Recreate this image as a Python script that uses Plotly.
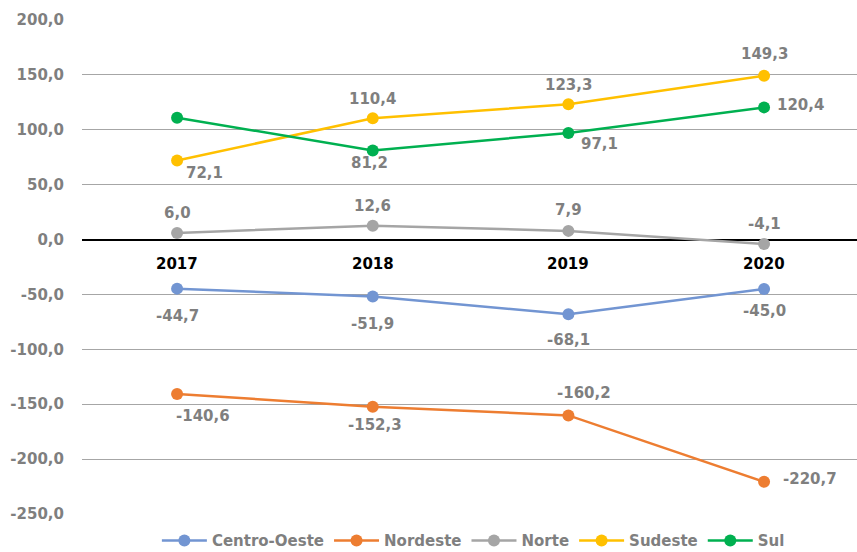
import plotly.graph_objects as go

years = ["2017", "2018", "2019", "2020"]
series_names = ["Centro-Oeste", "Nordeste", "Norte", "Sudeste", "Sul"]
centro_oeste = [-44.7, -51.9, -68.1, -45.0]
nordeste = [-140.6, -152.3, -160.2, -220.7]
norte = [6.0, 12.6, 7.9, -4.1]
sudeste = [72.1, 110.4, 123.3, 149.3]
sul = [111.0, 81.2, 97.1, 120.4]
sul_label_shown = [False, True, True, True]
y_ticks = [200, 150, 100, 50, 0, -50, -100, -150, -200, -250]

colors = ["#7295D2", "#ED7D31", "#A5A5A5", "#FFC000", "#00B050"]
# label offsets (xshift, yshift) in pixels per point
offsets = {
    "Centro-Oeste": [(0, -27), (0, -27), (0, -26), (0, -22)],
    "Nordeste": [(26, -22), (2, -18), (16, 22), (46, 3)],
    "Norte": [(0, 20), (0, 20), (0, 21), (0, 20)],
    "Sudeste": [(27, -13), (0, 19), (0, 19), (0, 22)],
    "Sul": [(0, 0), (-3, -13), (31, -11), (36, 2)],
}

FONT = "DejaVu Sans"
all_vals = [centro_oeste, nordeste, norte, sudeste, sul]
fig = go.Figure()
annotations = []
for name, vals, col in zip(series_names, all_vals, colors):
    fig.add_trace(go.Scatter(
        x=years, y=vals, name=f"<b>{name}</b>", mode="lines+markers",
        line=dict(color=col, width=2.5),
        marker=dict(color=col, size=12),
    ))
    for i, v in enumerate(vals):
        if name == "Sul" and not sul_label_shown[i]:
            continue
        dx, dy = offsets[name][i]
        annotations.append(dict(
            x=i, y=v, xref="x", yref="y",
            text="<b>" + f"{v:.1f}".replace(".", ",") + "</b>", showarrow=False,
            xshift=dx, yshift=dy,
            font=dict(family=FONT, size=15, color="#7F7F7F"),
        ))

for i, yr in enumerate(years):
    annotations.append(dict(
        x=i, y=0, xref="x", yref="y", text=f"<b>{yr}</b>", showarrow=False, yshift=-24,
        font=dict(family=FONT, size=15, color="#000000"),
    ))

fig.update_layout(
    width=857, height=552,
    margin=dict(l=82, r=0, t=20, b=38, autoexpand=False),
    plot_bgcolor="white", paper_bgcolor="white",
    showlegend=True,
    legend=dict(orientation="h", x=0.505, xanchor="center", y=-0.054, yanchor="middle",
                font=dict(family=FONT, size=15, color="#7F7F7F"), itemwidth=45),
    annotations=annotations,
    font=dict(family=FONT),
)
fig.update_xaxes(type="category", range=[-0.486, 3.475], showticklabels=False,
                 showgrid=False, zeroline=False, showline=False)
fig.update_yaxes(range=[-250, 200], tickvals=y_ticks,
                 ticktext=["<b>" + f"{t:.1f}".replace(".", ",") + "</b>" for t in y_ticks],
                 showgrid=True, gridcolor="#A6A6A6", gridwidth=1,
                 zeroline=True, zerolinecolor="#000000", zerolinewidth=2,
                 ticks="outside", ticklen=14, tickcolor="rgba(0,0,0,0)",
                 tickfont=dict(family=FONT, size=15, color="#7F7F7F"))

fig.write_html("out.html", post_script="document.body.style.margin='0';",
               config={"displayModeBar": False})
